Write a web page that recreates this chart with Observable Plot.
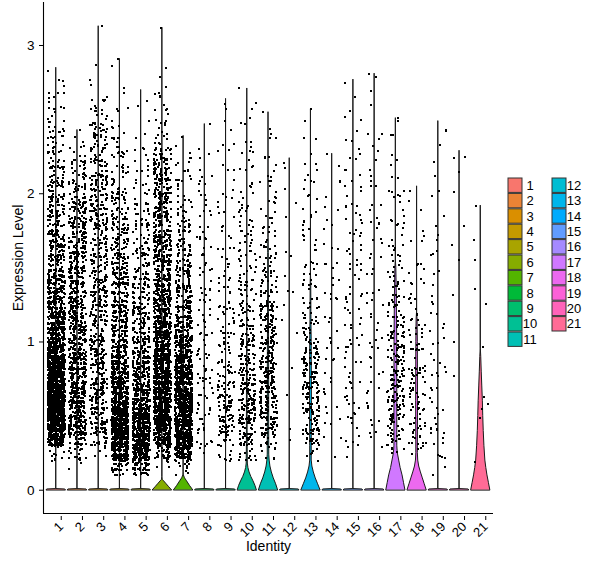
<!DOCTYPE html>
<html><head><meta charset="utf-8">
<script src="https://cdn.jsdelivr.net/npm/d3@7"></script>
<script src="https://cdn.jsdelivr.net/npm/@observablehq/plot@0.6"></script>
<style>
body{margin:0;background:#fff;}
#chart{width:600px;height:568px;}
</style>
</head><body><div id="chart"></div>
<script>
// ---------------- data ----------------
const categories = ["1","2","3","4","5","6","7","8","9","10","11","12","13","14","15","16","17","18","19","20","21"];
const yTicks = [0, 1, 2, 3];
// maximum expression per identity (top of each violin)
const maxExpr = [2.85,2.43,3.13,2.91,2.70,3.12,2.39,2.47,2.64,2.71,2.55,2.24,2.57,2.27,2.77,2.81,2.51,2.05,2.49,2.29,1.92];
// number of non-zero cells per 0.1-wide expression bin (bin k = [0.1k, 0.1k+0.1))
const bins1  = [0,0,14,175,270,300,300,285,240,195,150,115,90,70,58,50,44,38,34,30,22,19,16,13,11,9,6,3,1];
const bins2  = [0,2,16,56,72,75,75,72,70,67,63,59,56,53,50,47,44,41,38,34,22,16,10,5,1];
const bins3  = [0,0,5,25,34,36,36,36,36,34,34,34,33,33,33,32,31,31,30,30,28,27,24,21,16,10,5,2,1,0,0,1];
const bins4  = [0,30,155,195,195,180,148,110,86,70,59,52,47,42,38,34,30,27,23,20,16,13,10,8,5,3,1,1,1,1];
const bins5  = [0,47,180,195,170,132,95,73,59,50,42,36,31,27,24,20,17,15,12,9,7,5,4,3,2,1,1];
const bins6  = [0,3,43,135,172,182,182,172,155,138,121,105,92,81,72,65,61,57,54,51,47,40,33,13,8,5,4,2,1,0,0,1];
const bins7  = [0,14,135,195,210,210,195,165,132,101,78,63,53,42,34,27,22,17,13,10,8,6,4,2];
const bins8  = [0,0,3,6,7,8,8,8,7,7,7,6,6,6,6,5,5,5,4,4,4,3,2,1,1];
const bins9  = [0,0,9,20,25,25,22,18,13,10,9,8,7,6,5,5,5,4,4,4,3,3,2,2,2,1,1];
const bins10 = [0,0,12,31,38,38,35,33,29,25,21,17,15,12,11,10,9,8,7,6,6,5,4,3,2,2,1,1];
const bins11 = [0,0,8,22,35,40,42,42,41,37,33,28,23,18,14,11,9,7,6,5,5,4,3,2,2,1];
const bins12 = [0,0,0,1,1,0,1,0,1,0,1,1,1,2,1,1,1,0,1,1,1,1,1];
const bins13 = [0,0,6,22,27,30,30,27,25,22,17,13,10,7,6,6,5,5,5,4,4,3,2,2,1,1];
const bins14 = [0,0,1,2,3,3,3,3,3,3,3,3,3,3,3,3,3,2,2,2,2,1,1];
const bins15 = [0,0,2,4,5,5,5,5,5,5,5,5,5,5,5,5,5,5,5,5,4,4,3,3,2,2,1,1];
const bins16 = [0,0,1,3,3,3,3,3,3,3,3,3,3,3,3,3,3,3,3,3,3,2,2,2,2,1,1,1,1];
const bins17 = [0,0,5,16,23,25,25,25,23,20,17,15,12,10,8,7,6,5,4,4,3,3,2,2,1,1];
const bins18 = [0,0,4,10,11,11,11,11,10,9,8,7,5,4,3,3,2,2,1,1,1];
const bins19 = [0,2,4,5,5,4,4,4,3,3,3,3,2,2,2,2,2,2,1,1,1,1,1,1,1];
const bins20 = [0,0,0,0,0,0,0,1,0,0,1,0,0,1,0,1,1,1,0,0,1,1,2];
const bins21 = [0,1,0,0,1,2,1,0,0,1,0,0,1,1,0,1,1,0,0,1];
const allBins = [bins1,bins2,bins3,bins4,bins5,bins6,bins7,bins8,bins9,bins10,bins11,bins12,bins13,bins14,bins15,bins16,bins17,bins18,bins19,bins20,bins21];

// violin profiles: [expression, relative half width]; flat violins for the rest
const violinFlat = [[0,1],[0.005,0.95],[0.008,0]];
const violin6  = [[0,1],[0.02,0.72],[0.04,0.45],[0.06,0.18],[0.07,0.04],[0.09,0]];
const violin7  = [[0,1],[0.03,0.66],[0.06,0.36],[0.08,0.15],[0.1,0.03],[0.12,0]];
const violin10 = [[0,1],[0.03,0.85],[0.06,0.65],[0.09,0.42],[0.12,0.24],[0.15,0.12],[0.18,0.06],[0.3,0.04],[0.9,0.03],[1.1,0.01]];
const violin11 = [[0,1],[0.04,0.8],[0.08,0.55],[0.12,0.35],[0.16,0.2],[0.2,0.12],[0.24,0.08],[0.4,0.07],[0.8,0.07],[1.2,0.05],[1.6,0.03],[1.7,0.005]];
const violin13 = [[0,1],[0.04,0.75],[0.08,0.5],[0.12,0.3],[0.16,0.15],[0.2,0.08],[0.3,0.08],[0.6,0.1],[1.0,0.08],[1.15,0.05],[1.4,0.03],[1.45,0.005]];
const violin17 = [[0,1],[0.05,0.85],[0.1,0.7],[0.15,0.5],[0.2,0.35],[0.25,0.2],[0.3,0.15],[0.6,0.15],[1.0,0.14],[1.3,0.1],[1.5,0.05],[1.55,0.005]];
const violin18 = [[0,1],[0.04,0.8],[0.08,0.6],[0.12,0.4],[0.16,0.22],[0.2,0.12],[0.25,0.08],[0.6,0.1],[1.0,0.08],[1.15,0.05],[1.2,0.005]];
const violin21 = [[0,1],[0.05,0.85],[0.1,0.7],[0.15,0.58],[0.2,0.48],[0.3,0.38],[0.4,0.31],[0.5,0.26],[0.6,0.22],[0.7,0.16],[0.8,0.1],[0.9,0.05],[0.95,0.01]];
const violinShapes = {6: violin6, 7: violin7, 10: violin10, 11: violin11, 13: violin13, 17: violin17, 18: violin18, 21: violin21};

// ---------------- colours (ggplot hue palette, hcl l=65 c=100) ----------------
function hueColor(h) {
  const L = 65, C = 100, hr = h * Math.PI / 180;
  const u = C * Math.cos(hr), v = C * Math.sin(hr);
  const Xn = 95.047, Yn = 100, Zn = 108.883, den = Xn + 15 * Yn + 3 * Zn;
  const un = 4 * Xn / den, vn = 9 * Yn / den;
  const Y = Yn * Math.pow((L + 16) / 116, 3);
  const up = u / (13 * L) + un, vp = v / (13 * L) + vn;
  const X = Y * 9 * up / (4 * vp), Z = Y * (12 - 3 * up - 20 * vp) / (4 * vp);
  const x = X / 100, y = Y / 100, z = Z / 100;
  const lin = [3.240479*x - 1.537150*y - 0.498535*z, -0.969256*x + 1.875992*y + 0.041556*z, 0.055648*x - 0.204043*y + 1.057311*z];
  const g = lin.map(c => { c = Math.max(0, Math.min(1, c)); return Math.round(255 * (c <= 0.0031308 ? 12.92 * c : 1.055 * Math.pow(c, 1/2.4) - 0.055)); });
  return d3.rgb(g[0], g[1], g[2]).formatHex();
}
const palette = categories.map((c, i) => hueColor(15 + i * 360 / categories.length));

// ---------------- build mark data ----------------
function jitter(n) { // deterministic hash in [0,1)
  n = (n ^ 61) ^ (n >>> 16); n = n + (n << 3); n ^= n >>> 4;
  n = Math.imul(n, 0x27d4eb2d); n ^= n >>> 15; return (n >>> 0) / 4294967296;
}
const violinRows = [];
categories.forEach((cat, i) => {
  const pos = i + 1;
  const prof = (violinShapes[pos] || violinFlat).concat([[maxExpr[i], 0]]);
  prof.forEach(([v, w]) => violinRows.push({cat, y: v, x1: pos - 0.45 * w, x2: pos + 0.45 * w}));
});
const pointRows = [];
let k = 1;
allBins.forEach((bins, i) => {
  const pos = i + 1;
  bins.forEach((count, b) => {
    for (let j = 0; j < count; j++) {
      const jx = jitter(k * 2 + 7), jy = jitter(k * 2 + 1000003);
      k++;
      pointRows.push({x: pos + (jx - 0.5) * 0.8, y: Math.min(maxExpr[i], (b + jy) * 0.1)});
    }
  });
});

// ---------------- plot ----------------
const font = "'Liberation Sans', Arial, sans-serif";
const plot = Plot.plot({
  width: 600, height: 568,
  marginLeft: 43, marginRight: 107, marginTop: 2, marginBottom: 55,
  style: {fontFamily: font, fontSize: "12px", color: "black", background: "white"},
  x: {domain: [0.4, 21.6]},
  y: {domain: [-0.157, 3.29]},
  color: {domain: categories, range: palette},
  marks: [
    Plot.areaX(violinRows, {y: "y", x1: "x1", x2: "x2", z: "cat", fill: "cat", stroke: "#1a1a1a", strokeWidth: 1, curve: "linear"}),
    Plot.dot(pointRows, {x: "x", y: "y", r: 1.13, symbol: "square", fill: "black", stroke: null, shapeRendering: "crispEdges"}),
    Plot.ruleX([0.4], {stroke: "black", strokeWidth: 1.1}),
    Plot.ruleY([-0.157], {stroke: "black", strokeWidth: 1.1}),
    Plot.axisY({ticks: yTicks, tickFormat: d => String(d), tickSize: 4, tickPadding: 5, label: null, fontSize: 13.5, stroke: "black"}),
    Plot.axisX({ticks: categories.map((c, i) => i + 1), tickFormat: d => categories[d - 1], tickSize: 4, tickPadding: 4, tickRotate: -45, dx: 5, dy: 3, label: null, fontSize: 13, stroke: "black"}),
    Plot.text(["Expression Level"], {frameAnchor: "left", dx: -25, rotate: -90, text: d => d, fontSize: 14, textAnchor: "middle"}),
    Plot.text(["Identity"], {frameAnchor: "bottom", dy: 37, text: d => d, fontSize: 14, textAnchor: "middle"})
  ]
});
document.getElementById("chart").appendChild(plot);

// ---------------- legend (right side) ----------------
const svg = d3.select(plot);
const leg = svg.append("g").attr("font-family", font).attr("font-size", 13);
categories.forEach((cat, i) => {
  const col = i < 11 ? 0 : 1;
  const row = i < 11 ? i : i - 11;
  const x = col === 0 ? 508 : 552;
  const y = 178 + row * 15.4;
  leg.append("rect").attr("x", x).attr("y", y).attr("width", 14).attr("height", 14.4)
    .attr("fill", palette[i]).attr("stroke", "#333").attr("stroke-width", 1);
  leg.append("text").attr("x", x + 22).attr("y", y + 7.2).attr("dy", "0.35em").attr("fill", "black").text(cat);
});
</script></body></html>
